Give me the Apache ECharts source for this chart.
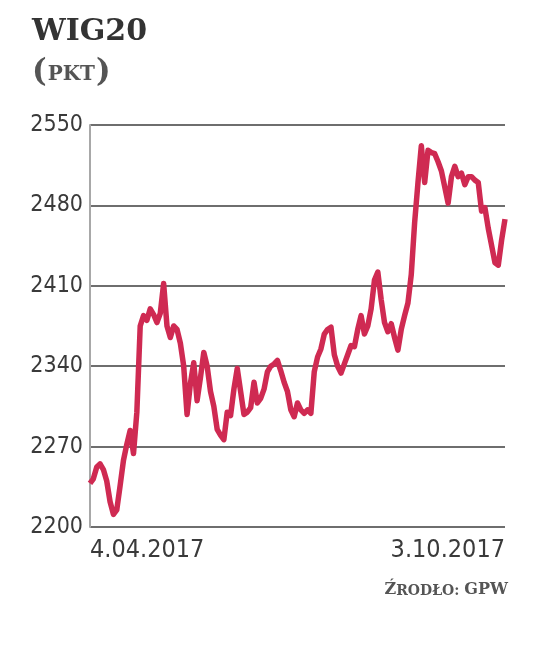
<!DOCTYPE html>
<html>
<head>
<meta charset="utf-8">
<script src="https://cdn.jsdelivr.net/npm/echarts@6/dist/echarts.min.js"></script>
<style>
  html, body { margin: 0; padding: 0; background: #fff; }
  #chart { width: 536px; height: 646px; }
</style>
</head>
<body>
<div id="chart"></div>
<script>
// WIG20 close, trading sessions 4.04.2017 - 3.10.2017
const wig20 = [
  2238, 2242, 2252, 2255, 2250, 2240, 2222, 2211, 2215, 2236,
  2258, 2272, 2284, 2264, 2300, 2375, 2384, 2380, 2390, 2385,
  2378, 2386, 2412, 2375, 2365, 2375, 2372, 2360, 2340, 2298,
  2325, 2343, 2310, 2330, 2352, 2340, 2318, 2305, 2285, 2280,
  2276, 2300, 2297, 2320, 2338, 2318, 2298, 2300, 2304, 2326,
  2308, 2312, 2320, 2335, 2340, 2342, 2345, 2336, 2326, 2318,
  2302, 2296, 2308, 2302, 2299, 2302, 2299, 2335, 2348, 2355,
  2368, 2372, 2374, 2350, 2340, 2334, 2342, 2350, 2358, 2357,
  2372, 2384, 2368, 2375, 2390, 2415, 2422, 2398, 2378, 2370,
  2377, 2365, 2354, 2372, 2384, 2395, 2420, 2465, 2500, 2532,
  2500, 2528, 2526, 2525, 2518, 2510, 2496, 2482, 2505, 2514,
  2505, 2508, 2498, 2505, 2505, 2502, 2500, 2475, 2478, 2460,
  2445, 2430, 2428, 2450, 2468
]
const yTicks = ['2200', '2270', '2340', '2410', '2480', '2550']
const startDate = '2017-04-04'
const endDate = '2017-10-03'
// GPW closed on these weekdays
const holidays = ['2017-04-14', '2017-04-17', '2017-05-01', '2017-05-03', '2017-06-15', '2017-08-15']

// trading days -> category labels like 4.04.2017
const days = []
const d = new Date(startDate + 'T12:00:00Z')
const end = new Date(endDate + 'T12:00:00Z')
while (d <= end) {
  const iso = d.toISOString().slice(0, 10)
  const wd = d.getUTCDay()
  if (wd !== 0 && wd !== 6 && holidays.indexOf(iso) < 0) {
    days.push(d.getUTCDate() + '.' + String(d.getUTCMonth() + 1).padStart(2, '0') + '.' + d.getUTCFullYear())
  }
  d.setUTCDate(d.getUTCDate() + 1)
}

const numFont = '"Liberation Sans Narrow", "DejaVu Sans Condensed", sans-serif'
const serif = '"DejaVu Serif", serif'

const option = {
  backgroundColor: '#fff',
  animation: false,
  title: [
    {
      text: 'WIG20',
      left: 32,
      top: 17,
      padding: 0,
      textStyle: { fontFamily: serif, fontWeight: 'bold', fontSize: 30, color: '#333' }
    },
    {
      text: '{p|(}{t|PKT}{p|)}',
      left: 32,
      top: 57,
      padding: 0,
      textStyle: {
        rich: {
          p: { fontFamily: serif, fontSize: 31, color: '#555' },
          t: { fontFamily: serif, fontWeight: 'bold', fontSize: 20, color: '#555', padding: [4, 1, 0, 1] }
        }
      }
    },
    {
      text: '{b|Ź}{s|RODŁO: }{b|GPW}',
      right: 28,
      top: 582,
      padding: 0,
      textStyle: {
        rich: {
          b: { fontFamily: serif, fontWeight: 'bold', fontSize: 16, color: '#555' },
          s: { fontFamily: serif, fontWeight: 'bold', fontSize: 14, color: '#555', padding: [2, 0, 0, 0] }
        }
      }
    }
  ],
  grid: {
    left: 90,
    right: 31,
    top: 125,
    bottom: 119
  },
  xAxis: {
    type: 'category',
    data: days,
    boundaryGap: false,
    axisLine: { show: false },
    axisTick: { show: false },
    splitLine: { show: false },
    axisLabel: {
      interval: (i) => i === 0 || i === days.length - 1,
      alignMinLabel: 'left',
      alignMaxLabel: 'right',
      margin: 11,
      fontFamily: numFont,
      fontSize: 25,
      color: '#3a3a3a'
    }
  },
  yAxis: [
    {
      type: 'value',
      min: 2200,
      max: 2550,
      show: false
    },
    {
      type: 'category',
      data: yTicks,
      boundaryGap: false,
      position: 'left',
      axisLine: { show: true, lineStyle: { color: '#a8a8a8', width: 2 } },
      axisTick: { show: false },
      splitLine: { show: true, interval: 0, lineStyle: { color: '#6e6e6e', width: 2 } },
      axisLabel: {
        interval: 0,
        margin: 7,
        fontFamily: numFont,
        fontSize: 23,
        color: '#3a3a3a'
      }
    }
  ],
  series: [
    {
      name: 'WIG20',
      type: 'line',
      yAxisIndex: 0,
      data: wig20,
      symbol: 'none',
      lineStyle: { color: '#cf2a52', width: 5.5, join: 'round' }
    }
  ]
}

const myChart = echarts.init(document.getElementById('chart'))
myChart.setOption(option)
window.addEventListener('resize', () => {
  myChart.resize()
})
</script>
</body>
</html>
